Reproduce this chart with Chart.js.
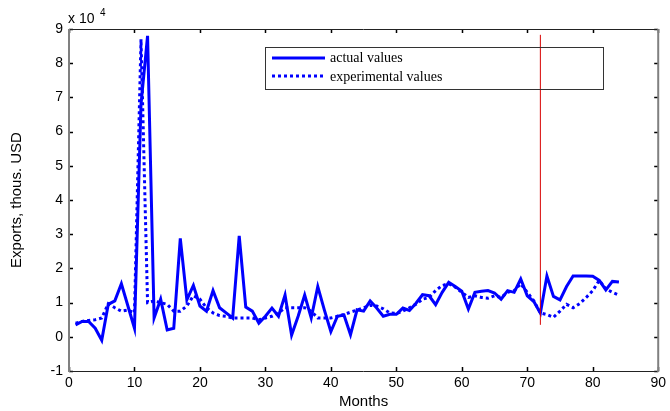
<!DOCTYPE html>
<html>
<head>
<meta charset="utf-8">
<script src="https://cdn.jsdelivr.net/npm/chart.js@4.4.1/dist/chart.umd.min.js"></script>
<style>
  html, body { margin: 0; padding: 0; background: #fff; }
  #wrap { width: 670px; height: 411px; }
</style>
</head>
<body>
<div id="wrap"><canvas id="exportsChart" width="670" height="411"></canvas></div>
<script>
// values in units of 10^4 thous. USD, months 1..84
const actualValues = [
  0.35, 0.45, 0.45, 0.25, -0.1, 0.95, 1.05, 1.55, 0.9, 0.25,
  6.8, 8.8, 0.55, 1.1, 0.2, 0.25, 2.88, 1.08, 1.5, 0.9,
  0.75, 1.35, 0.85, 0.7, 0.55, 2.95, 0.87, 0.75, 0.4, 0.6,
  0.84, 0.6, 1.22, 0.05, 0.6, 1.22, 0.55, 1.47, 0.79, 0.15,
  0.6, 0.64, 0.06, 0.79, 0.75, 1.05, 0.84, 0.6, 0.66, 0.66,
  0.84, 0.77, 0.98, 1.23, 1.2, 0.94, 1.3, 1.59, 1.47, 1.33,
  0.81, 1.3, 1.33, 1.35, 1.28, 1.1, 1.35, 1.3, 1.69, 1.2,
  1.03, 0.69, 1.78, 1.18, 1.08, 1.47, 1.78, 1.78, 1.78, 1.77,
  1.65, 1.37, 1.62, 1.6
];
const experimentalValues = [
  0.4, 0.45, 0.48, 0.5, 0.55, 0.97, 0.85, 0.75, 0.78, 0.7,
  8.7, 1.0, 1.05, 1.0, 0.95, 0.75, 0.75, 0.9, 1.2, 1.1,
  0.85, 0.7, 0.62, 0.6, 0.55, 0.55, 0.55, 0.55, 0.5, 0.55,
  0.6, 0.7, 0.85, 0.85, 0.85, 0.85, 0.75, 0.55, 0.55, 0.55,
  0.6, 0.65, 0.72, 0.78, 0.85, 0.92, 0.9, 0.82, 0.7, 0.68,
  0.75, 0.85, 0.95, 1.1, 1.15, 1.35, 1.5, 1.55, 1.45, 1.3,
  1.15, 1.2, 1.15, 1.13, 1.2, 1.15, 1.3, 1.35, 1.55, 1.3,
  1.05, 0.7, 0.65, 0.57, 0.75, 0.95, 0.85, 0.97, 1.15, 1.35,
  1.65, 1.4, 1.3, 1.22
];
const splitMonth = 72;
const splitRange = [0.35, 8.83];
const xTicks = [0, 10, 20, 30, 40, 50, 60, 70, 80, 90];
const yTicks = [-1, 0, 1, 2, 3, 4, 5, 6, 7, 8, 9];
const legendLabels = ['actual values', 'experimental values'];

const BLUE = '#0000ff';
const sansFont = '"Liberation Sans", Arial, sans-serif';
const serifFont = '"Liberation Serif", "Times New Roman", serif';

const toPoints = arr => arr.map((v, i) => ({ x: i + 1, y: v }));

// frame, inward ticks, exponent label and legend box, MATLAB style
const matlabAxes = {
  id: 'matlabAxes',
  afterDatasetsDraw(chart) {
    const { ctx, chartArea: a, scales: { x, y } } = chart;
    ctx.save();

    // inward ticks
    ctx.strokeStyle = '#000';
    ctx.lineWidth = 1.5;
    const tl = 4;
    ctx.beginPath();
    xTicks.forEach(t => {
      const px = Math.round(x.getPixelForValue(t)) + 0.5;
      ctx.moveTo(px, a.bottom); ctx.lineTo(px, a.bottom - tl);
      ctx.moveTo(px, a.top); ctx.lineTo(px, a.top + tl);
    });
    yTicks.forEach(t => {
      const py = Math.round(y.getPixelForValue(t)) + 0.5;
      ctx.moveTo(a.left, py); ctx.lineTo(a.left + tl, py);
      ctx.moveTo(a.right, py); ctx.lineTo(a.right - tl, py);
    });
    ctx.stroke();

    // box
    ctx.lineWidth = 1;
    ctx.strokeStyle = '#222';
    ctx.beginPath();
    ctx.moveTo(a.left, a.top + 0.5); ctx.lineTo(a.right, a.top + 0.5);
    ctx.moveTo(a.left, a.bottom + 0.5); ctx.lineTo(a.right, a.bottom + 0.5);
    ctx.stroke();
    ctx.lineWidth = 2;
    ctx.strokeStyle = '#808080';
    ctx.beginPath();
    ctx.moveTo(a.left, a.top); ctx.lineTo(a.left, a.bottom + 1);
    ctx.moveTo(a.right, a.top); ctx.lineTo(a.right, a.bottom + 1);
    ctx.stroke();

    // x 10^4
    ctx.fillStyle = '#000';
    ctx.textBaseline = 'alphabetic';
    ctx.font = '14px ' + sansFont;
    ctx.fillText('x 10', a.left - 1, a.top - 6);
    ctx.font = '10px ' + sansFont;
    ctx.fillText('4', a.left + 31, a.top - 13);

    // legend
    const lx = 265, ly = 47, lw = 338, lh = 42;
    ctx.strokeStyle = '#333';
    ctx.lineWidth = 1;
    ctx.strokeRect(lx + 0.5, ly + 0.5, lw, lh);
    ctx.lineWidth = 3;
    ctx.strokeStyle = BLUE;
    ctx.beginPath();
    ctx.moveTo(272, 58); ctx.lineTo(325, 58);
    ctx.stroke();
    ctx.setLineDash([3, 3]);
    ctx.beginPath();
    ctx.moveTo(272, 76); ctx.lineTo(325, 76);
    ctx.stroke();
    ctx.setLineDash([]);
    ctx.fillStyle = '#000';
    ctx.font = '14px ' + serifFont;
    ctx.textBaseline = 'middle';
    ctx.fillText(legendLabels[0], 330, 58);
    ctx.fillText(legendLabels[1], 330, 77);

    ctx.restore();
  }
};

new Chart(document.getElementById('exportsChart'), {
  type: 'line',
  data: {
    datasets: [
      {
        label: legendLabels[0],
        data: toPoints(actualValues),
        borderColor: BLUE,
        borderWidth: 3,
        pointRadius: 0,
        tension: 0,
        order: 1
      },
      {
        label: legendLabels[1],
        data: toPoints(experimentalValues),
        borderColor: BLUE,
        borderWidth: 3,
        borderDash: [3, 3],
        pointRadius: 0,
        tension: 0,
        order: 2
      },
      {
        label: 'split',
        data: splitRange.map(v => ({ x: splitMonth, y: v })),
        borderColor: '#d80000',
        borderWidth: 1,
        pointRadius: 0,
        order: 0
      }
    ]
  },
  options: {
    responsive: false,
    animation: false,
    devicePixelRatio: 1,
    layout: { padding: { top: 29, right: 7, left: 0, bottom: 0 } },
    plugins: {
      legend: { display: false },
      tooltip: { enabled: false }
    },
    scales: {
      x: {
        type: 'linear',
        min: 0,
        max: 90,
        afterBuildTicks: s => { s.ticks = xTicks.map(v => ({ value: v })); },
        afterFit: s => { s.height = 40; },
        grid: { display: false, drawTicks: false },
        border: { display: false },
        ticks: { padding: 4, color: '#000', font: { family: sansFont, size: 14 }, maxRotation: 0 },
        title: {
          display: true,
          text: 'Months',
          color: '#000',
          font: { family: sansFont, size: 15 },
          padding: { top: 0, bottom: 0 }
        }
      },
      y: {
        min: -1,
        max: 9,
        afterBuildTicks: s => { s.ticks = yTicks.map(v => ({ value: v })); },
        afterFit: s => { s.width = 69; },
        grid: { display: false, drawTicks: false },
        border: { display: false },
        ticks: { padding: 6, color: '#000', font: { family: sansFont, size: 14 } },
        title: {
          display: true,
          text: 'Exports, thous. USD',
          color: '#000',
          font: { family: sansFont, size: 15 },
          padding: { top: 8, bottom: 0 }
        }
      }
    }
  },
  plugins: [matlabAxes]
});
</script>
</body>
</html>
